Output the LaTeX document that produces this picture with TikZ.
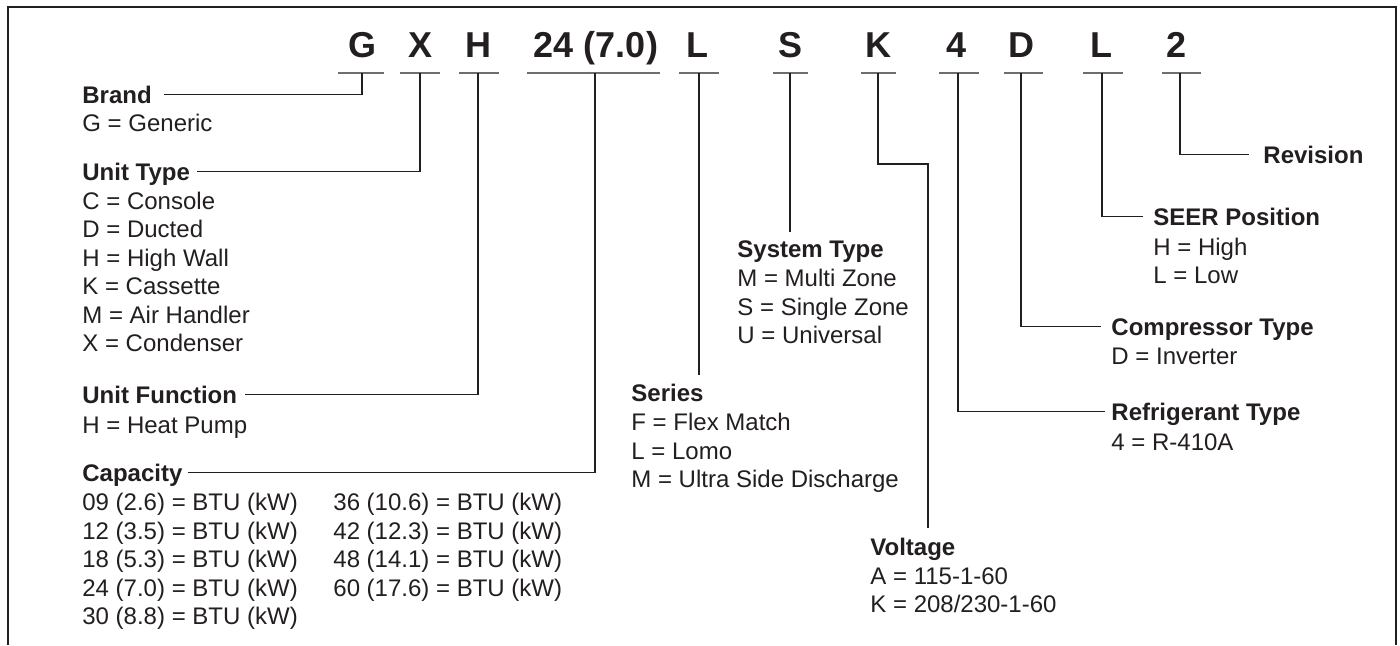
\documentclass[tikz,border=0pt]{standalone}
\usepackage{fontspec}
\setmainfont{Liberation Sans}
\usetikzlibrary{calc}
\definecolor{ink}{HTML}{231F20}
\definecolor{barc}{HTML}{6E6E6E}
\begin{document}
\begin{tikzpicture}[x=0.5pt,y=-0.5pt,
  code/.style={font=\fontsize{18}{18}\selectfont\bfseries, text=ink, anchor=base, inner sep=0pt},
  head/.style={font=\fontsize{12}{14}\selectfont\bfseries, text=ink, anchor=base west, inner sep=0pt, text height=8.6pt, text depth=0pt},
  item/.style={font=\fontsize{12}{14}\selectfont, text=ink, anchor=base west, inner sep=0pt},
  bar/.style={draw=barc, line width=0.8pt},
  conn/.style={draw=ink, line width=0.55pt},
  frame/.style={draw=ink, line width=1.2pt}]
\useasboundingbox (0,0) rectangle (1400,645);
\fill[white] (0,0) rectangle (1400,645);
% frame (open at bottom)
\draw[frame] (8,645) -- (8,7) -- (1396,7) -- (1396,645);

% code letters
\node[code] (cG)  at (362,57) {G};
\node[code] (cX)  at (420,57) {X};
\node[code] (cH)  at (478,57) {H};
\node[code] (cCap) at (596,57) {24 (7.0)};
\node[code] (cL)  at (697,57) {L};
\node[code] (cS)  at (790,57) {S};
\node[code] (cK)  at (878,57) {K};
\node[code] (c4)  at (956,57) {4};
\node[code] (cD)  at (1021,57) {D};
\node[code] (cL2) at (1101,57) {L};
\node[code] (c2)  at (1176,57) {2};

% bars
\draw[bar] (338,73) -- (384,73);
\draw[bar] (400,73) -- (440,73);
\draw[bar] (459,73) -- (499,73);
\draw[bar] (527,73) -- (660,73);
\draw[bar] (679,73) -- (719,73);
\draw[bar] (773,73) -- (808,73);
\draw[bar] (861,73) -- (896,73);
\draw[bar] (939,73) -- (979,73);
\draw[bar] (1004,73) -- (1043,73);
\draw[bar] (1083,73) -- (1123,73);
\draw[bar] (1162,73) -- (1201,73);

\coordinate (bG) at (362,73);
\coordinate (bX) at (420,73);
\coordinate (bH) at (478,73);
\coordinate (bCap) at (595,73);
\coordinate (bL) at (699,73);
\coordinate (bS) at (790,73);
\coordinate (bK) at (878,73);
\coordinate (b4) at (958,73);
\coordinate (bD) at (1021,73);
\coordinate (bL2) at (1102,73);
\coordinate (b2) at (1180,73);
\coordinate (kTurn) at (928,164);

% left labels
\node[head] (lBrand) at (82,103) {Brand};
\node[item] (iBrand1) at (82,131.5) {G = Generic};

\node[head] (lUnit) at (82,180.5) {Unit Type};
\node[item] (iUnit1) at (82,209) {C = Console};
\node[item] (iUnit2) at (82,237.5) {D = Ducted};
\node[item] (iUnit3) at (82,266) {H = High Wall};
\node[item] (iUnit4) at (82,294.5) {K = Cassette};
\node[item] (iUnit5) at (82,323) {M = Air Handler};
\node[item] (iUnit6) at (82,351.5) {X = Condenser};

\node[head] (lFunc) at (82,403.5) {Unit Function};
\node[item] (iFunc1) at (82,433) {H = Heat Pump};

\node[head] (lCap) at (82,481.5) {Capacity};
\node[item] (iCap1) at (82,510.5) {09 (2.6) = BTU (kW)};
\node[item] (iCap2) at (82,539) {12 (3.5) = BTU (kW)};
\node[item] (iCap3) at (82,567.5) {18 (5.3) = BTU (kW)};
\node[item] (iCap4) at (82,596) {24 (7.0) = BTU (kW)};
\node[item] (iCap5) at (82,624.5) {30 (8.8) = BTU (kW)};
\node[item] (iCap6) at (333,510.5) {36 (10.6) = BTU (kW)};
\node[item] (iCap7) at (333,539) {42 (12.3) = BTU (kW)};
\node[item] (iCap8) at (333,567.5) {48 (14.1) = BTU (kW)};
\node[item] (iCap9) at (333,596) {60 (17.6) = BTU (kW)};

% middle labels
\node[head] (lSeries) at (631,401.5) {Series};
\node[item] (iSer1) at (631,430.5) {F = Flex Match};
\node[item] (iSer2) at (631,459) {L = Lomo};
\node[item] (iSer3) at (631,487.5) {M = Ultra Side Discharge};

\node[head] (lSys) at (737,257.5) {System Type};
\node[item] (iSys1) at (737,286.5) {M = Multi Zone};
\node[item] (iSys2) at (737,315) {S = Single Zone};
\node[item] (iSys3) at (737,343.5) {U = Universal};

\node[head] (lVolt) at (870,555.5) {Voltage};
\node[item] (iVolt1) at (870,584.5) {A = 115-1-60};
\node[item] (iVolt2) at (870,612.5) {K = 208/230-1-60};

% right labels
\node[head] (lRev) at (1263,163.5) {Revision};

\node[head] (lSeer) at (1153,225.5) {SEER Position};
\node[item] (iSeer1) at (1153,255) {H = High};
\node[item] (iSeer2) at (1153,283.5) {L = Low};

\node[head] (lComp) at (1111,335.5) {Compressor Type};
\node[item] (iComp1) at (1111,364.5) {D = Inverter};

\node[head] (lRef) at (1111,420.5) {Refrigerant Type};
\node[item] (iRef1) at (1111,450) {4 = R-410A};

% connectors
\draw[conn] (bG) |- ([xshift=6pt]lBrand.east);
\draw[conn] (bX) |- ([xshift=3.5pt]lUnit.east);
\draw[conn] (bH) |- ([xshift=4pt]lFunc.east);
\draw[conn] (bCap) |- ([xshift=2.5pt]lCap.east);
\draw[conn] (bL) -- ([yshift=4.25pt]bL |- lSeries.north);
\draw[conn] (bS) -- ([yshift=3.75pt]bS |- lSys.north);
\draw[conn] (bK) |- (kTurn) -- ([yshift=5pt]kTurn |- lVolt.north);
\draw[conn] (b4) |- ([xshift=-3pt]lRef.west);
\draw[conn] (bD) |- ([xshift=-5pt]lComp.west);
\draw[conn] (bL2) |- ([xshift=-5pt]lSeer.west);
\draw[conn] (b2) |- ([xshift=-7pt]lRev.west);
\end{tikzpicture}
\end{document}
